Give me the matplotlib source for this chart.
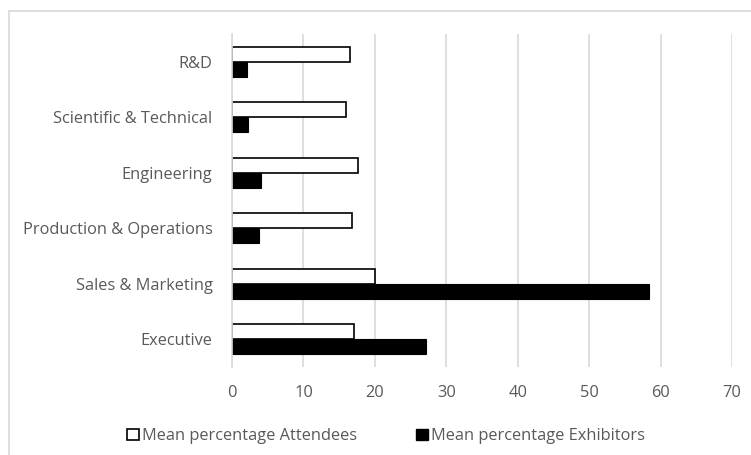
import matplotlib
matplotlib.use("Agg")
import matplotlib.pyplot as plt
from matplotlib.patches import Rectangle, Patch
import numpy as np

categories = ["Executive", "Sales & Marketing", "Production & Operations",
              "Engineering", "Scientific & Technical", "R&D"]
attendees = [17.1, 20.0, 16.8, 17.7, 16.0, 16.5]
exhibitors = [27.1, 58.4, 3.8, 4.1, 2.3, 2.05]
xticks = [0, 10, 20, 30, 40, 50, 60, 70]

plt.rcParams["font.family"] = ["Open Sans", "DejaVu Sans"]
text_color = "#595959"
grid_color = "#d9d9d9"
fs = 11.8

W, H = 751, 455
fig = plt.figure(figsize=(W / 100, H / 100), dpi=100)

# chart frame
fig.patches.append(Rectangle((9 / W, -0.1), 1.2, 1.1 - 11 / H, transform=fig.transFigure,
                             facecolor="none", edgecolor=grid_color, linewidth=1.2))

ax = fig.add_axes([232 / W, 1 - 367 / H, (732 - 232) / W, (367 - 34) / H])

y = np.arange(len(categories))
h = 0.27
ax.barh(y + h / 2, attendees, height=h, color="white", edgecolor="black", linewidth=1.2,
        label="Mean percentage Attendees", zorder=3)
ax.barh(y - h / 2, exhibitors, height=h, color="black", edgecolor="black", linewidth=0.8,
        label="Mean percentage Exhibitors", zorder=3)

ax.set_xlim(0, 70)
ax.set_ylim(-0.5, len(categories) - 0.5)
ax.set_xticks(xticks)
ax.set_xticklabels([str(t) for t in xticks])
ax.set_yticks(y)
ax.set_yticklabels(categories)
ax.tick_params(axis="both", length=0, labelsize=fs, colors=text_color)
ax.tick_params(axis="x", pad=13)
ax.tick_params(axis="y", pad=14)

ax.xaxis.grid(True, color=grid_color, linewidth=1.2, zorder=0)
ax.set_axisbelow(True)
for side in ["top", "right", "bottom"]:
    ax.spines[side].set_visible(False)
ax.spines["left"].set_color(grid_color)
ax.spines["left"].set_linewidth(1.2)
ax.spines["left"].set_zorder(4)

handles = [Patch(facecolor="white", edgecolor="black", linewidth=1.2),
           Patch(facecolor="black", edgecolor="black")]
fig.legend(handles, ["Mean percentage Attendees", "Mean percentage Exhibitors"],
           loc="center", bbox_to_anchor=(386 / W, 1 - 436 / H), ncol=2, frameon=False,
           fontsize=fs, labelcolor=text_color, handlelength=0.7, handleheight=0.7,
           handletextpad=0.2, columnspacing=3.6)

fig.savefig("out.png", dpi=100, facecolor="white")
